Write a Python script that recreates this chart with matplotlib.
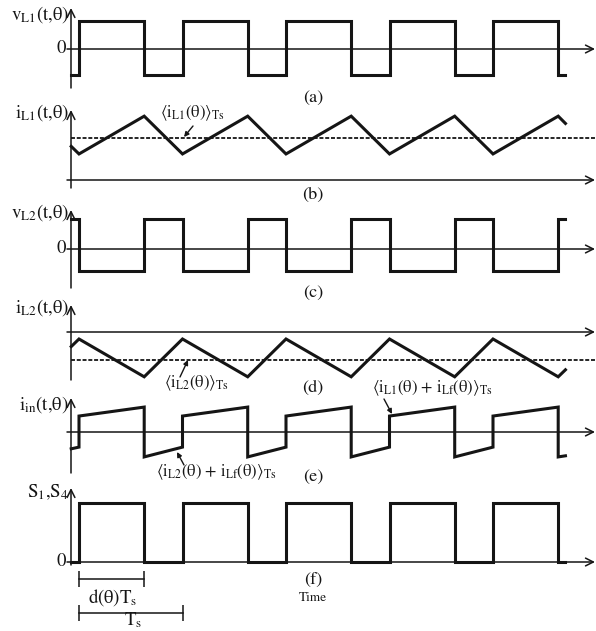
import matplotlib
matplotlib.use("Agg")
import matplotlib.pyplot as plt

plt.rcParams['font.family'] = 'STIXGeneral'
plt.rcParams['mathtext.fontset'] = 'stix'

# switching instants, time in units of Ts
t_start, t_end = -0.075, 4.7
rise_t = [0.0, 1.0, 2.0, 3.0, 4.0]
fall_t = [0.63, 1.63, 2.63, 3.63, 4.63]
duty = 0.63

# inductor voltages
vL1_hi, vL1_lo = 1.0, -0.93
vL2_hi, vL2_lo = 1.07, -0.79

# inductor currents (valley / peak / average, plus the values at both ends)
iL1_valley, iL1_peak, iL1_avg = 0.93, 2.28, 1.5
iL1_first, iL1_last = 1.2, 2.02
iL2_peak, iL2_valley, iL2_avg = -0.25, -1.6, -1.0
iL2_first, iL2_last = -0.52, -1.35

# input current: on-interval ramp and off-interval ramp
iin_on = (0.57, 0.89)
iin_off = (-0.89, -0.54)
iin_first = (-0.6, -0.54)
iin_last = (-0.89, -0.85)

# switch state S1,S4
s_on, s_off = 1.0, 0.0

W, H = 596, 631
T0_PX, TS_PX = 79, 103.5
AX_PX = 71
LW = 2.2
INK = '#151515'

fig = plt.figure(figsize=(W / 100, H / 100), dpi=100)


def panel(top, bot, zero, ppu):
    ax = fig.add_axes([0, 1 - bot / H, 1, (bot - top) / H])
    ax.set_xlim(-T0_PX / TS_PX, (W - T0_PX) / TS_PX)
    ax.set_ylim((zero - bot) / ppu, (zero - top) / ppu)
    ax.axis('off')
    return ax


def arrow(x0, y0, x1, y1, style='->', ms=14, lw=1.1):
    fig.add_artist(matplotlib.patches.FancyArrowPatch(
        (x0, H - y0), (x1, H - y1), transform=None, arrowstyle=style,
        mutation_scale=ms, lw=lw, color=INK, shrinkA=0, shrinkB=0))


def axes_lines(y_top, y_bot, y_zero, x_left=67):
    arrow(AX_PX, y_bot, AX_PX, y_top)
    arrow(x_left, y_zero, 595, y_zero)


def label(x, y, s, size=13.5, ha='center', va='center'):
    fig.text(x / W, 1 - y / H, s, fontsize=size, ha=ha, va=va, color=INK)


def square(t_up, t_down, hi, lo, first):
    ts, vs = [t_start], [first]
    edges = sorted([(t, hi) for t in t_up] + [(t, lo) for t in t_down])
    for t, v in edges:
        ts += [t, t]
        vs += [vs[-1], v]
    ts.append(t_end)
    vs.append(vs[-1])
    return ts, vs


def triangle(t_a, v_a, t_b, v_b, first, last):
    pts = sorted([(t, v_a) for t in t_a] + [(t, v_b) for t in t_b])
    ts = [t_start] + [p[0] for p in pts] + [t_end]
    vs = [first] + [p[1] for p in pts] + [last]
    return ts, vs


def wave(ax, ts, vs):
    ax.plot(ts, vs, color=INK, lw=LW, solid_joinstyle='miter', clip_on=False)


# (a) v_L1
ax = panel(0, 100, 49, 28)
wave(ax, *square(rise_t, fall_t, vL1_hi, vL1_lo, vL1_lo))
axes_lines(8, 88, 49)
label(69, 15, 'v$_{\\mathrm{L1}}$(t,θ)', ha='right')
label(66, 48, '0', ha='right')
label(313, 98, '(a)', size=13)

# (b) i_L1
ax = panel(100, 200, 180, 28)
wave(ax, *triangle(rise_t, iL1_valley, fall_t, iL1_peak, iL1_first, iL1_last))
ax.plot([t_start, 4.985], [iL1_avg, iL1_avg], color=INK, lw=1.3,
        dashes=(2.2, 1.0), clip_on=False)
axes_lines(110, 188, 180)
label(69, 113, 'i$_{\\mathrm{L1}}$(t,θ)', ha='right')
label(192, 113, '$\\langle$i$_{\\mathrm{L1}}$(θ)$\\rangle_{\\mathrm{Ts}}$', size=12)
arrow(193, 126, 184, 137, style='-|>', ms=7, lw=1.0)
label(313, 195, '(b)', size=13)

# (c) v_L2
ax = panel(200, 300, 249, 28)
wave(ax, *square(fall_t, rise_t, vL2_hi, vL2_lo, vL2_hi))
axes_lines(210, 288, 249)
label(69, 213, 'v$_{\\mathrm{L2}}$(t,θ)', ha='right')
label(66, 248, '0', ha='right')
label(313, 293, '(c)', size=13)

# (d) i_L2
ax = panel(300, 395, 332, 28)
wave(ax, *triangle(rise_t, iL2_peak, fall_t, iL2_valley, iL2_first, iL2_last))
ax.plot([t_start, 4.985], [iL2_avg, iL2_avg], color=INK, lw=1.3,
        dashes=(2.2, 1.0), clip_on=False)
axes_lines(305, 380, 332)
label(69, 308, 'i$_{\\mathrm{L2}}$(t,θ)', ha='right')
label(196, 383, '$\\langle$i$_{\\mathrm{L2}}$(θ)$\\rangle_{\\mathrm{Ts}}$', size=12)
arrow(180, 377, 188, 360, style='-|>', ms=7, lw=1.0)
label(313, 388, '(d)', size=13)

# (e) i_in
ax = panel(395, 484, 432, 28)
ts = [t_start, rise_t[0]]
vs = list(iin_first)
for k, (tr, tf) in enumerate(zip(rise_t, fall_t)):
    ts += [tr, tf, tf]
    vs += [iin_on[0], iin_on[1], iin_off[0]]
    if k + 1 < len(rise_t):
        ts.append(rise_t[k + 1])
        vs.append(iin_off[1])
ts.append(t_end)
vs.append(iin_last[1])
wave(ax, ts, vs)
axes_lines(398, 473, 432)
label(69, 405, 'i$_{\\mathrm{in}}$(t,θ)', ha='right')
label(432, 388, '$\\langle$i$_{\\mathrm{L1}}$(θ) + i$_{\\mathrm{Lf}}$(θ)$\\rangle_{\\mathrm{Ts}}$', size=12)
arrow(384, 399, 392, 414, style='-|>', ms=7, lw=1.0)
label(216, 472, '$\\langle$i$_{\\mathrm{L2}}$(θ) + i$_{\\mathrm{Lf}}$(θ)$\\rangle_{\\mathrm{Ts}}$', size=12)
arrow(184, 465, 177, 452, style='-|>', ms=7, lw=1.0)
label(313, 477, '(e)', size=13)

# (f) S1,S4 with the duty and period markers
ax = panel(484, 631, 562, 59)
wave(ax, *square(rise_t, fall_t, s_on, s_off, s_off))
axes_lines(488, 565, 562)
label(69, 492, 'S$_{1}$,S$_{4}$', ha='right')
label(66, 561, '0', ha='right')
label(313, 580, '(f)', size=13)
label(313, 598, 'Time', size=9.5)
for span, y in [(duty, -0.288), (1.0, -0.864)]:
    ax.plot([0, span], [y, y], color=INK, lw=1.1, clip_on=False)
    ax.plot([0, span], [y, y], ls='none', marker='|', ms=12, mew=1.1,
            color=INK, clip_on=False)
label(113, 598, 'd(θ)T$_{\\mathrm{s}}$')
label(133, 630, 'T$_{\\mathrm{s}}$', va='bottom')

fig.savefig('out.png', dpi=100, facecolor='white')
